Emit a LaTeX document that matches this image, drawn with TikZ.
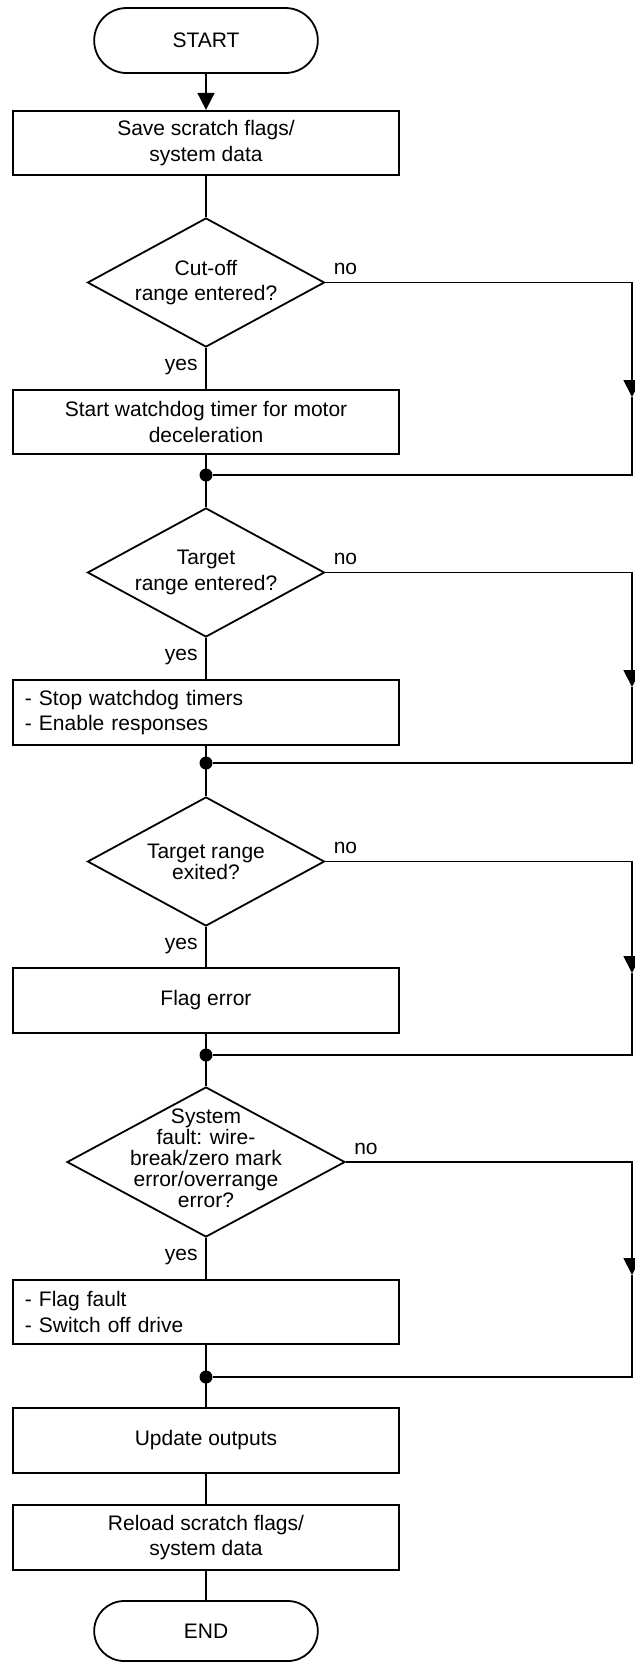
\documentclass[tikz,border=0pt]{standalone}
\usepackage{fontspec}
\setmainfont{Liberation Sans}
\usepackage{tikz}
\usetikzlibrary{shapes.geometric,shapes.misc,arrows.meta,positioning}

\begin{document}
\begin{tikzpicture}[
    x=0.5pt, y=-0.5pt,
    font=\fontsize{10.5}{12.8}\selectfont,
    terminal/.style={rounded rectangle, draw, line width=0.9pt, minimum width=118.5pt, minimum height=32.5pt},
    procbox/.style={rectangle, draw, line width=0.9pt, minimum width=192.75pt, minimum height=32.25pt, align=center},
    proclist/.style={procbox, text width=181pt, align=left, inner xsep=5.75pt},
    decision/.style={diamond, draw, line width=0.9pt, minimum width=118.5pt, minimum height=64.5pt, inner sep=0pt},
    dtext/.style={align=center, inner sep=0pt},
    dtight/.style={dtext, font=\fontsize{10.5}{10.5}\selectfont},
    junction/.style={circle, fill, inner sep=0pt, minimum size=6.5pt},
    lbl/.style={inner sep=0pt},
    flow/.style={line width=0.9pt},
    arrow/.style={flow, -{Triangle[length=8.5pt, width=8.5pt]}}
]
\useasboundingbox (0,0) rectangle (634,1662);

% main column
\node[terminal] (start) at (206,40.5) {START};
\node[procbox] (save) at (206,143) {Save scratch flags/\\system data};
\node[decision] (cut) at (206,282.5) {};
\node[dtext] (cutt) at (cut) {Cut-off\\range entered?};
\node[procbox] (wdog) at (206,422) {Start watchdog timer for motor\\deceleration};
\node[junction] (j1) at (206,475) {};
\node[decision] (tgt) at (206,572.5) {};
\node[dtext] (tgtt) at (tgt) {Target\\range entered?};
\node[proclist] (stop) at (206,712.5) {- Stop watchdog timers\\- Enable responses};
\node[junction] (j2) at (206,763) {};
\node[decision] (exit) at (206,861.5) {};
\node[dtight] (exitt) at (exit) {Target range\\exited?};
\node[procbox] (flag) at (206,1000.5) {Flag error};
\node[junction] (j3) at (206,1055) {};
\node[decision, minimum width=139pt, minimum height=75pt] (fault) at (206,1162) {};
\node[dtight] (faultt) at ([yshift=2pt]fault.center) {System\\fault: wire-\\break/zero mark\\error/overrange\\error?};
\node[proclist] (off) at (206,1312) {- Flag fault\\- Switch off drive};
\node[junction] (j4) at (206,1377) {};
\node[procbox] (upd) at (206,1440.5) {Update outputs};
\node[procbox] (reload) at (206,1537.5) {Reload scratch flags/\\system data};
\node[terminal, minimum height=30pt] (end) at (206,1631) {END};

% yes / no labels
\node[lbl, anchor=north east] (yes1) at ([xshift=-4pt, yshift=-5.5pt]cut.south) {yes};
\node[lbl, anchor=north east] (yes2) at ([xshift=-4pt, yshift=-5.5pt]tgt.south) {yes};
\node[lbl, anchor=north east] (yes3) at ([xshift=-4pt, yshift=-5.5pt]exit.south) {yes};
\node[lbl, anchor=north east] (yes4) at ([xshift=-4pt, yshift=-5.5pt]fault.south) {yes};
\node[lbl, anchor=base west] (no1) at ([xshift=4pt, yshift=4pt]cut.east) {no};
\node[lbl, anchor=base west] (no2) at ([xshift=4pt, yshift=4pt]tgt.east) {no};
\node[lbl, anchor=base west] (no3) at ([xshift=4pt, yshift=4pt]exit.east) {no};
\node[lbl, anchor=base west] (no4) at ([xshift=4pt, yshift=4pt]fault.east) {no};

% vertical flow
\draw[arrow] (start) -- (save);
\draw[flow] (save) -- (cut);
\draw[flow] (cut) -- (wdog);
\draw[flow] (wdog) -- (tgt);
\draw[flow] (tgt) -- (stop);
\draw[flow] (stop) -- (exit);
\draw[flow] (exit) -- (flag);
\draw[flow] (flag) -- (fault);
\draw[flow] (fault) -- (off);
\draw[flow] (off) -- (upd);
\draw[flow] (upd) -- (reload);
\draw[flow] (reload) -- (end);

% bypass lines on the right
\coordinate (r1) at (632,397);
\coordinate (r2) at (632,687);
\coordinate (r3) at (632,973);
\coordinate (r4) at (632,1275);
\draw[arrow] (cut.east) -| (r1);
\draw[flow] (r1) |- (j1);
\draw[arrow] (tgt.east) -| (r2);
\draw[flow] (r2) |- (j2);
\draw[arrow] (exit.east) -| (r3);
\draw[flow] (r3) |- (j3);
\draw[arrow] (fault.east) -| (r4);
\draw[flow] (r4) |- (j4);
\end{tikzpicture}
\end{document}
